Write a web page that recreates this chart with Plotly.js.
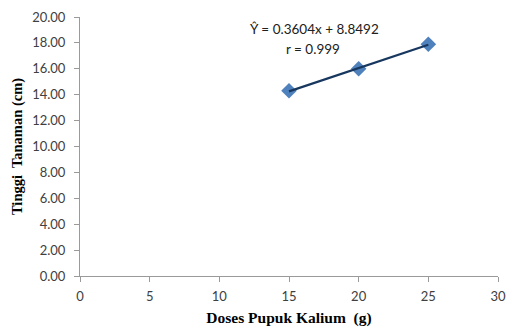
<!DOCTYPE html>
<html><head><meta charset="utf-8">
<script src="https://cdn.plot.ly/plotly-3.0.1.min.js"></script>
<style>html,body{margin:0;padding:0;background:#fff}#chart{width:512px;height:329px}</style>
</head><body><div id="chart"></div>
<script>
const doses = [15, 20, 25];
const height = [14.3, 16.0, 17.9];
const slope = 0.3604, intercept = 8.8492;
const trendX = [15, 25];
const trendY = trendX.map(x => slope * x + intercept);
const eqText = "Ŷ = 0.3604x + 8.8492";
const rText = "r = 0.999";

const traces = [
  {x: doses, y: height, mode: 'markers', type: 'scatter',
   marker: {symbol: 'diamond', size: 12, color: '#4F81BD'}, showlegend: false, hoverinfo: 'skip'},
  {x: trendX, y: trendY, mode: 'lines', type: 'scatter',
   line: {color: '#17375E', width: 2.2}, showlegend: false, hoverinfo: 'skip'}
];
const layout = {
  width: 512, height: 329,
  margin: {l: 80, r: 14, t: 17, b: 53},
  paper_bgcolor: '#fff', plot_bgcolor: '#fff',
  font: {family: 'Lato, "Open Sans", sans-serif', size: 13, color: '#404040'},
  xaxis: {range: [0, 30], tickvals: [0,5,10,15,20,25,30], ticktext: ['0','5','10','15','20','25','30'],
    showgrid: false, zeroline: false, showline: true, linecolor: '#9a9a9a', linewidth: 1,
    ticks: 'outside', ticklen: 5, tickcolor: '#9a9a9a', ticklabelstandoff: 3,
    title: {text: 'Doses Pupuk Kalium  (g)', font: {family: '"Liberation Serif", serif', size: 15.5, color: '#000', weight: 'bold'}, standoff: 9}},
  yaxis: {range: [0, 20], tickvals: [0,2,4,6,8,10,12,14,16,18,20],
    ticktext: ['0.00','2.00','4.00','6.00','8.00','10.00','12.00','14.00','16.00','18.00','20.00'],
    showgrid: false, zeroline: false, showline: true, linecolor: '#9a9a9a', linewidth: 1,
    ticks: 'outside', ticklen: 5, tickcolor: '#9a9a9a', ticklabelstandoff: 6,
    title: {text: 'Tinggi  Tanaman (cm)', font: {family: '"Liberation Serif", serif', size: 14.5, color: '#000', weight: 'bold'}, standoff: 6}},
  annotations: [
    {xref: 'paper', yref: 'paper', x: (314-80)/418, y: (276-29)/259, text: eqText, showarrow: false,
     font: {family: 'Lato, sans-serif', size: 13.5, color: '#202020'}, xanchor: 'center', yanchor: 'middle'},
    {xref: 'paper', yref: 'paper', x: (313-80)/418, y: (276-49)/259, text: rText, showarrow: false,
     font: {family: 'Lato, sans-serif', size: 13.5, color: '#202020'}, xanchor: 'center', yanchor: 'middle'}
  ]
};
Plotly.newPlot('chart', traces, layout, {displayModeBar: false, staticPlot: true});
</script></body></html>
